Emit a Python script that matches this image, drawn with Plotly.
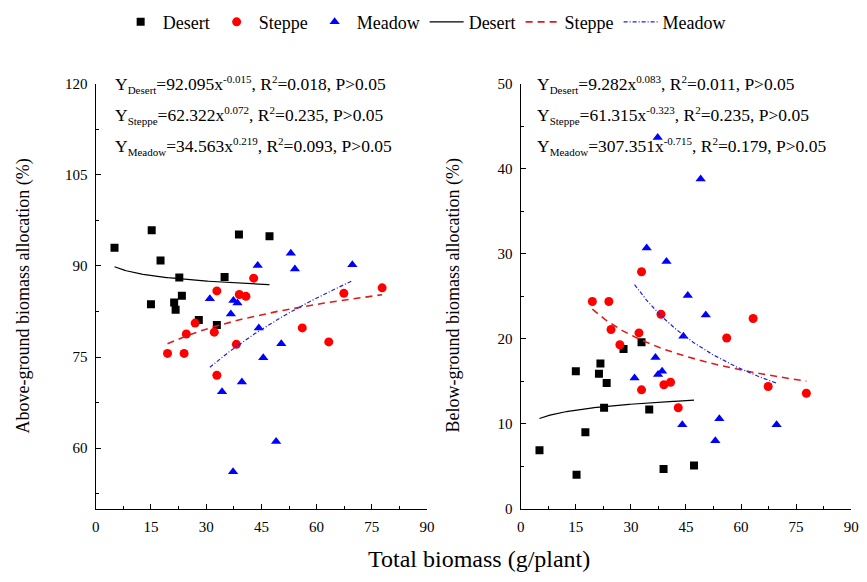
import numpy as np
import plotly.graph_objects as go

# ---------------- data ----------------
desert_x = [5.1, 15.2, 17.6, 22.7, 35.0, 38.9, 47.2, 23.4, 15.0, 21.3, 21.7, 28.0, 32.9]
desert_above = [93.0, 95.9, 90.9, 88.1, 88.2, 95.2, 94.9, 85.1, 83.7, 84.0, 82.8, 81.1, 80.3]
desert_below = [6.9, 4.0, 9.0, 11.9, 11.7, 4.7, 5.1, 14.8, 16.2, 15.9, 17.1, 18.8, 19.6]

steppe_x = [42.9, 32.9, 39.0, 40.8, 27.0, 24.6, 32.2, 38.2, 56.1, 63.3, 67.4, 77.8, 19.5, 24.0, 32.9]
steppe_above = [88.0, 85.9, 85.3, 85.0, 80.6, 78.8, 79.1, 77.1, 79.8, 77.5, 85.5, 86.4, 75.6, 75.6, 72.0]
steppe_below = [11.9, 14.0, 14.6, 14.9, 19.3, 21.1, 20.7, 22.9, 20.1, 22.4, 14.4, 13.6, 24.4, 24.4, 27.9]

meadow_x = [53.0, 44.0, 54.1, 69.7, 31.0, 37.4, 38.5, 36.7, 44.3, 50.4, 45.5, 39.7, 34.3, 49.0, 37.3]
meadow_above = [92.1, 90.1, 89.5, 90.2, 84.6, 84.3, 83.9, 82.1, 79.8, 77.2, 74.9, 70.9, 69.3, 61.1, 56.1]
meadow_below = [8.0, 9.9, 10.6, 9.9, 15.4, 15.8, 16.2, 17.8, 20.3, 22.8, 25.1, 29.1, 30.7, 38.8, 43.7]

# power-fit coefficients  Y = a * x^b
fit_above_a = {"Desert": 92.095, "Steppe": 62.322, "Meadow": 34.563}
fit_above_b = {"Desert": -0.015, "Steppe": 0.072, "Meadow": 0.219}
fit_above_r2 = {"Desert": "0.018", "Steppe": "0.235", "Meadow": "0.093"}
fit_below_a = {"Desert": 9.282, "Steppe": 61.315, "Meadow": 307.351}
fit_below_b = {"Desert": 0.083, "Steppe": -0.323, "Meadow": -0.715}
fit_below_r2 = {"Desert": "0.011", "Steppe": "0.235", "Meadow": "0.179"}

x_ticks = [0, 15, 30, 45, 60, 75, 90]
y_left_ticks = [60, 75, 90, 105, 120]
y_right_ticks = [0, 10, 20, 30, 40, 50]

# ---------------- styles ----------------
FONT = "Liberation Serif"
groups = ["Desert", "Steppe", "Meadow"]
xs = {"Desert": desert_x, "Steppe": steppe_x, "Meadow": meadow_x}
above = {"Desert": desert_above, "Steppe": steppe_above, "Meadow": meadow_above}
below = {"Desert": desert_below, "Steppe": steppe_below, "Meadow": meadow_below}
mk = {
    "Desert": dict(symbol="square", size=8, color="black"),
    "Steppe": dict(symbol="circle", size=9, color="#ff0000"),
    "Meadow": dict(symbol="triangle-up", size=9, color="#0000ff"),
}
ln = {
    "Desert": dict(color="black", width=1.2, dash="solid"),
    "Steppe": dict(color="#dd1c1c", width=1.6, dash="7px,5px"),
    "Meadow": dict(color="#2020e0", width=1.2, dash="4px,2px,1px,2px"),
}

fig = go.Figure()

for side, data, xa, ya in [("L", above, "x", "y"), ("R", below, "x2", "y2")]:
    for g in groups:
        fig.add_trace(go.Scatter(
            x=xs[g], y=data[g], mode="markers", name=g,
            marker=mk[g], xaxis=xa, yaxis=ya,
            showlegend=(side == "L"), legendrank=groups.index(g) + 1,
        ))

for side, A, B, xa, ya in [("L", fit_above_a, fit_above_b, "x", "y"),
                           ("R", fit_below_a, fit_below_b, "x2", "y2")]:
    for g in groups:
        xf = np.linspace(min(xs[g]), max(xs[g]), 120)
        yf = A[g] * xf ** B[g]
        fig.add_trace(go.Scatter(
            x=xf, y=yf, mode="lines", name=g, line=ln[g],
            xaxis=xa, yaxis=ya, showlegend=(side == "L"),
            legendrank=groups.index(g) + 4,
        ))

tickfont = dict(family=FONT, size=15, color="black")
common_axis = dict(
    showline=True, linecolor="black", linewidth=1.3, mirror=False,
    ticks="inside", ticklen=5, tickwidth=1.2, tickcolor="black",
    showgrid=False, zeroline=False, tickfont=tickfont, ticklabelstandoff=4,
)
fig.update_layout(
    width=867, height=582,
    margin=dict(l=0, r=0, t=0, b=0),
    font=dict(family=FONT, color="black"),
    paper_bgcolor="white", plot_bgcolor="white",
    xaxis=dict(domain=[0.1073, 0.4948], range=[0, 90], tickvals=x_ticks,
               minor=dict(ticks="inside", ticklen=3, dtick=7.5, tick0=0, tickcolor="black"),
               anchor="y", **common_axis),
    yaxis=dict(domain=[0.1151, 0.866], range=[50, 120], tickvals=y_left_ticks,
               minor=dict(ticks="inside", ticklen=3, dtick=7.5, tick0=0, tickcolor="black"),
               anchor="x", **common_axis),
    xaxis2=dict(domain=[0.6044, 0.9908], range=[0, 90], tickvals=x_ticks,
                minor=dict(ticks="inside", ticklen=3, dtick=7.5, tick0=0, tickcolor="black"),
                anchor="y2", **common_axis),
    yaxis2=dict(domain=[0.1151, 0.866], range=[0, 50], tickvals=y_right_ticks,
                minor=dict(ticks="inside", ticklen=3, dtick=5, tick0=0, tickcolor="black"),
                anchor="x2", **common_axis),
    legend=dict(orientation="h", x=0.492, xanchor="center", y=0.975, yanchor="middle",
                font=dict(family=FONT, size=18, color="black"),
                bgcolor="rgba(0,0,0,0)", itemwidth=34, traceorder="normal"),
    showlegend=True,
)

ann = []
SMALL = "<span style='font-size:11px'>{}</span>"
def eq(g, a, b, r2):
    return ("Y<sub>" + SMALL.format(g) + "</sub>=" + a + "x<sup>" + SMALL.format(b)
            + "</sup>, R<sup>" + SMALL.format("2") + "</sup>=" + r2 + ", P&gt;0.05")

line_y = [79, 111, 142]
for i, g in enumerate(groups):
    for x0, A, B, R in [(111, fit_above_a, fit_above_b, fit_above_r2),
                        (538, fit_below_a, fit_below_b, fit_below_r2)]:
        ann.append(dict(
            text=eq(g, f"{A[g]:.3f}", f"{B[g]:.3f}", R[g]),
            xref="paper", yref="paper", x=x0 / 867, y=1 - line_y[i] / 582,
            xanchor="left", yanchor="middle", showarrow=False,
            font=dict(family=FONT, size=17.5, color="black"),
        ))

ann.append(dict(text="Above-ground biomass allocation (%)", xref="paper", yref="paper",
                x=20 / 867, y=1 - 296 / 582, textangle=-90, showarrow=False,
                xanchor="center", yanchor="middle",
                font=dict(family=FONT, size=18, color="black")))
ann.append(dict(text="Below-ground biomass allocation (%)", xref="paper", yref="paper",
                x=456 / 867, y=1 - 296 / 582, textangle=-90, showarrow=False,
                xanchor="center", yanchor="middle",
                font=dict(family=FONT, size=18, color="black")))
ann.append(dict(text="Total biomass (g/plant)", xref="paper", yref="paper",
                x=482 / 867, y=1 - 567 / 582, showarrow=False,
                xanchor="center", yanchor="middle",
                font=dict(family=FONT, size=24, color="black")))
fig.update_layout(annotations=ann)

fig.write_html("out.html")
